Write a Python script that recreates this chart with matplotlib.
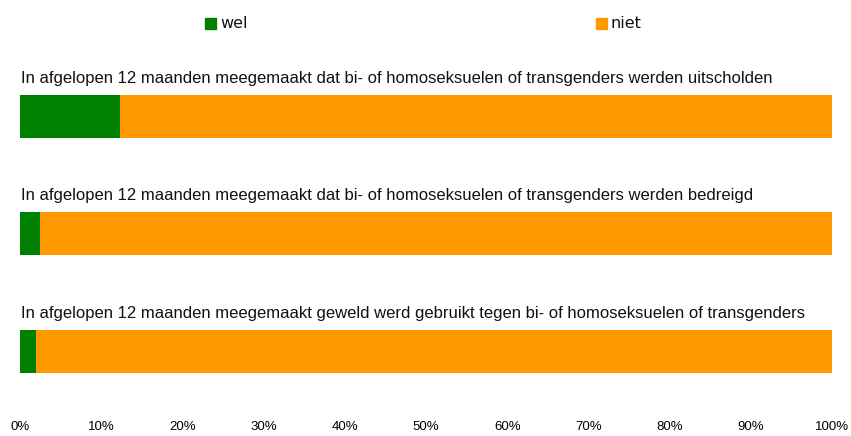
import numpy as np
import matplotlib
matplotlib.use("Agg")
import matplotlib.pyplot as plt
from matplotlib.patches import Rectangle

# data
labels = [
    "In afgelopen 12 maanden meegemaakt dat bi- of homoseksuelen of transgenders werden uitscholden",
    "In afgelopen 12 maanden meegemaakt dat bi- of homoseksuelen of transgenders werden bedreigd",
    "In afgelopen 12 maanden meegemaakt geweld werd gebruikt tegen bi- of homoseksuelen of transgenders",
]
wel = [12.3, 2.5, 2.0]
niet = [100 - v for v in wel]
series_names = ["wel", "niet"]
colors = ["#008000", "#FF9900"]
xticks = np.arange(0, 101, 10)

fig = plt.figure(figsize=(8.51, 4.36), dpi=100)
ax = fig.add_axes([20 / 851, 0.0596, 812 / 851, 0.8888])

y = np.arange(len(labels))
ax.barh(y, wel, height=0.366, color=colors[0], label=series_names[0])
ax.barh(y, niet, left=wel, height=0.366, color=colors[1], label=series_names[1])

# category labels above each bar
for yi, lab in zip(y, labels):
    ax.text(0.1, yi - 0.325, lab, fontsize=12, family="Liberation Sans",
            color="#111111", va="center", ha="left")

ax.set_xlim(0, 100)
ax.set_ylim(2.5, -0.8)
ax.set_xticks(xticks)
ax.set_xticklabels([f"{t}%" for t in xticks], fontsize=9.5, family="Liberation Sans")
ax.set_yticks([])
ax.tick_params(axis="x", length=0, pad=8)
for s in ax.spines.values():
    s.set_visible(False)

# legend
for name, col, xpos in zip(series_names, colors, [205, 596]):
    fig.patches.append(Rectangle((xpos / 851, 1 - 29 / 436), 11 / 851, 11 / 436,
                                 transform=fig.transFigure, color=col))
    fig.text((xpos + 15) / 851, 1 - 23 / 436, name, fontsize=11.5,
             va="center", ha="left", color="#111111")

fig.savefig("out.png", dpi=100)
